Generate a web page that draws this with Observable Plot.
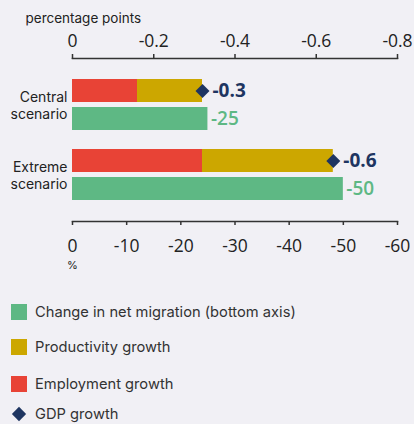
<!DOCTYPE html>
<html>
<head>
<meta charset="utf-8">
<script src="https://cdn.jsdelivr.net/npm/d3@7"></script>
<script src="https://cdn.jsdelivr.net/npm/@observablehq/plot@0.6"></script>
<style>
  html, body { margin: 0; padding: 0; background: #f1f0f5; }
  body { width: 414px; height: 424px; overflow: hidden; font-family: Inter, "Open Sans", sans-serif; }
  #chart svg { display: block; }
  .legend { margin-top: 15px; padding-left: 11px; }
  .legend .item { display: flex; align-items: center; font-size: 14.7px; color: #333; }
  .legend .item:nth-child(1) { height: 34px; }
  .legend .item:nth-child(2) { height: 35px; }
  .legend .item:nth-child(3) { height: 40px; }
  .legend .item:nth-child(4) { height: 20px; }
  .legend .sw { width: 16px; height: 16px; margin-right: 8px; flex: none; }
  .legend svg { margin-right: 8px; flex: none; }
</style>
</head>
<body>
<div id="chart"></div>
<div class="legend" id="legend"></div>
<script>
// ---- data ----
const scenarios = ["Central scenario", "Extreme scenario"];
const employment = [-0.16, -0.32];     // percentage points (top axis)
const productivity = [-0.16, -0.322];  // percentage points (top axis)
const gdp = [-0.32, -0.642];           // percentage points (top axis)
const gdpLabels = ["-0.3", "-0.6"];
const migration = [-25, -50];          // % (bottom axis)
const migrationLabels = ["-25", "-50"];
const ppTicks = [0, -0.2, -0.4, -0.6, -0.8];
const pctTicks = [0, -10, -20, -30, -40, -50, -60];
const pctPerPp = 75; // -60 % on bottom axis aligns with -0.8 pp on top axis

const legendLabels = ["Change in net migration (bottom axis)", "Productivity growth", "Employment growth", "GDP growth"];
const colors = { migration: "#5eb884", productivity: "#cca700", employment: "#e84336", gdp: "#1e3561" };
const numFont = "'Open Sans', sans-serif";

// ---- tables ----
const stacked = [];
scenarios.forEach((s, i) => {
  stacked.push({ scenario: s, component: "Employment growth", value: employment[i] });
  stacked.push({ scenario: s, component: "Productivity growth", value: productivity[i] });
});
const gdpRows = scenarios.map((s, i) => ({ scenario: s, value: gdp[i], label: gdpLabels[i] }));
const migRows = scenarios.map((s, i) => ({ scenario: s, value: migration[i] / pctPerPp, label: migrationLabels[i] }));

const chart = Plot.plot({
  width: 414,
  height: 280,
  marginTop: 58,
  marginBottom: 59,
  marginLeft: 72,
  marginRight: 17,
  style: { fontFamily: "Inter, 'Open Sans', sans-serif", background: "transparent", color: "#222" },
  x: { domain: [0, -0.8] },
  y: { domain: scenarios, paddingInner: 0.2714, paddingOuter: 0.3, round: false },
  color: {
    domain: ["Employment growth", "Productivity growth"],
    range: [colors.employment, colors.productivity]
  },
  marks: [
    Plot.frame({ anchor: "top", stroke: "#333", strokeWidth: 1.5 }),
    Plot.frame({ anchor: "bottom", stroke: "#333", strokeWidth: 1.5 }),
    Plot.axisX({
      anchor: "top", ticks: ppTicks, tickSize: 5, tickPadding: 7, fontSize: 17.5, fontFamily: numFont,
      stroke: "#333", strokeWidth: 1.5,
      tickFormat: d => d === 0 ? "0" : d.toFixed(1), label: null
    }),
    Plot.axisX({
      anchor: "bottom", ticks: pctTicks.map(v => v / pctPerPp), tickSize: 4, tickPadding: 14, fontSize: 17.5, fontFamily: numFont,
      stroke: "#333", strokeWidth: 1.5,
      tickFormat: d => String(Math.round(d * pctPerPp)), label: null
    }),
    Plot.axisY({
      tickSize: 0, tickPadding: 5, fontSize: 14, lineHeight: 1.26, fill: "#222",
      tickFormat: d => d.replace(" ", "\n"), label: null
    }),
    Plot.text(["percentage points"], { frameAnchor: "top-left", dx: -47, dy: -45, textAnchor: "start", fontSize: 13.5, fill: "#222" }),
    Plot.text(["%"], { frameAnchor: "bottom-left", dy: 47, textAnchor: "middle", fontSize: 11, fill: "#222" }),
    Plot.barX(stacked, { x: "value", y: "scenario", fill: "component", insetBottom: 28 }),
    Plot.barX(migRows, { x: "value", y: "scenario", fill: colors.migration, insetTop: 28 }),
    Plot.dot(gdpRows, { x: "value", y: "scenario", symbol: "diamond2", r: 6.3, fill: colors.gdp, dy: -14 }),
    Plot.text(gdpRows, { x: "value", y: "scenario", text: "label", dy: -14, dx: 10, textAnchor: "start", fontSize: 19, fontWeight: 700, fontFamily: numFont, fill: colors.gdp }),
    Plot.text(migRows, { x: "value", y: "scenario", text: "label", dy: 14, dx: 3, textAnchor: "start", fontSize: 19, fontWeight: 600, fontFamily: numFont, fill: colors.migration })
  ]
});
document.getElementById("chart").append(chart);

// ---- legend ----
const legendColors = [colors.migration, colors.productivity, colors.employment, colors.gdp];
const legend = document.getElementById("legend");
legendLabels.forEach((lab, i) => {
  const item = document.createElement("div");
  item.className = "item";
  if (i < 3) {
    const sw = document.createElement("span");
    sw.className = "sw";
    sw.style.background = legendColors[i];
    item.append(sw);
  } else {
    const svg = d3.create("svg").attr("width", 16).attr("height", 16);
    svg.append("path").attr("transform", "translate(8,8)")
      .attr("d", d3.symbol(d3.symbolDiamond2, 130)()).attr("fill", legendColors[i]);
    item.append(svg.node());
  }
  item.append(document.createTextNode(lab));
  legend.append(item);
});
</script>
</body>
</html>
